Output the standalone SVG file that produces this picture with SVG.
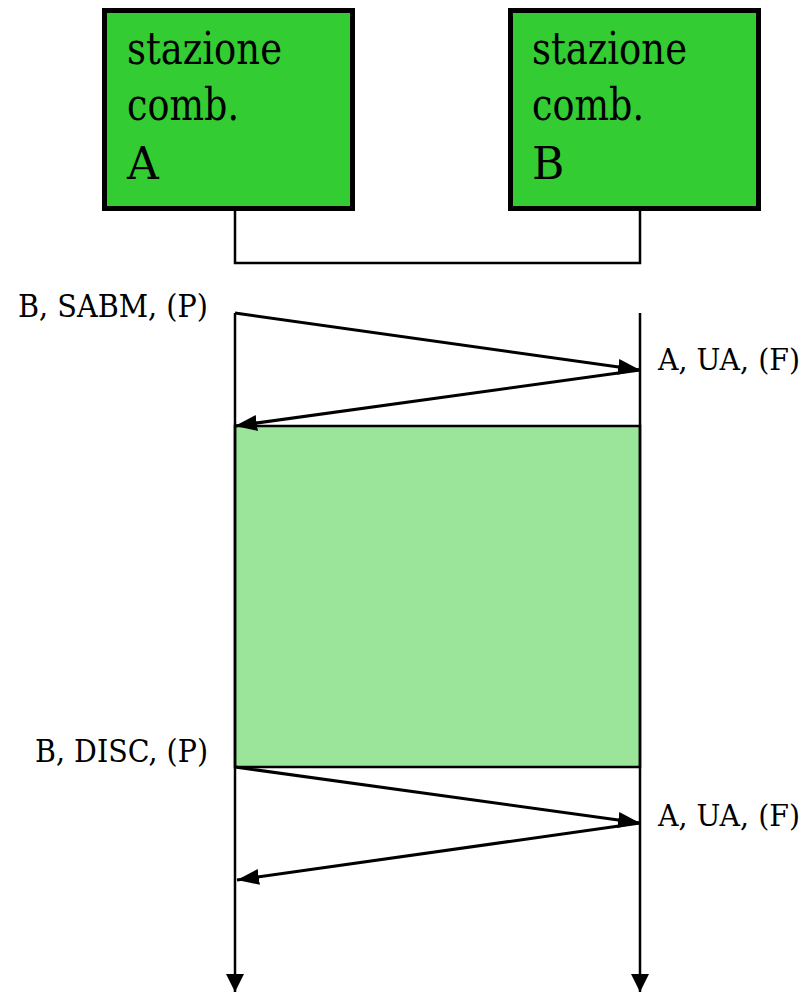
<svg xmlns="http://www.w3.org/2000/svg" width="812" height="994" viewBox="0 0 812 994">
<style>
.box{fill:#33cc33;stroke:#000;stroke-width:5}
.bt{font-family:'DejaVu Serif','Liberation Serif',serif;font-size:44px;fill:#000}
.lbl{font-family:'DejaVu Serif','Liberation Serif',serif;font-size:31px;fill:#000}
.lbr{font-family:'DejaVu Serif','Liberation Serif',serif;font-size:29px;fill:#000}
.ln{fill:none;stroke:#000;stroke-width:2.5}
.msg{fill:none;stroke:#000;stroke-width:3}
</style>
<defs>
<marker id="ah" markerUnits="userSpaceOnUse" markerWidth="24" markerHeight="18" refX="22" refY="8" orient="auto">
<path d="M0,0 L22,8 L0,16 Z" fill="#000"/>
</marker>
<marker id="dn" markerUnits="userSpaceOnUse" markerWidth="20" markerHeight="20" refX="18" refY="9" orient="auto">
<path d="M0,0 L18,9 L0,18 Z" fill="#000"/>
</marker>
</defs>
<rect id="exchange" x="235" y="426" width="405" height="341" fill="#9be59a" stroke="#000" stroke-width="2.5"/>
<g id="stationA">
<rect class="box" x="104.5" y="10.5" width="248" height="198"/>
<text class="bt" x="127" y="64" textLength="155" lengthAdjust="spacingAndGlyphs">stazione</text>
<text class="bt" x="127" y="120" textLength="112" lengthAdjust="spacingAndGlyphs">comb.</text>
<text class="bt" x="127" y="179">A</text>
</g>
<g id="stationB">
<rect class="box" x="510.5" y="10.5" width="248" height="198"/>
<text class="bt" x="532" y="64" textLength="155" lengthAdjust="spacingAndGlyphs">stazione</text>
<text class="bt" x="532" y="120" textLength="112" lengthAdjust="spacingAndGlyphs">comb.</text>
<text class="bt" x="532" y="179">B</text>
</g>
<g id="connectors">
<path class="ln" d="M235,211 V263 H640 V211"/>
<line class="ln" x1="235" y1="313" x2="235" y2="992" marker-end="url(#dn)"/>
<line class="ln" x1="640" y1="313" x2="640" y2="992" marker-end="url(#dn)"/>
<line class="msg" x1="235" y1="313" x2="640" y2="370" marker-end="url(#ah)"/>
<line class="msg" x1="640" y1="370" x2="235" y2="426" marker-end="url(#ah)"/>
<line class="msg" x1="235" y1="767" x2="640" y2="823" marker-end="url(#ah)"/>
<line class="msg" x1="640" y1="823" x2="237" y2="880" marker-end="url(#ah)"/>
</g>
<g id="labels">
<text class="lbl" x="18" y="317" textLength="190" lengthAdjust="spacingAndGlyphs">B, SABM, (P)</text>
<text class="lbr" x="658" y="370" textLength="142" lengthAdjust="spacingAndGlyphs">A, UA, (F)</text>
<text class="lbl" x="35" y="762" textLength="173" lengthAdjust="spacingAndGlyphs">B, DISC, (P)</text>
<text class="lbr" x="658" y="826" textLength="142" lengthAdjust="spacingAndGlyphs">A, UA, (F)</text>
</g>
</svg>
